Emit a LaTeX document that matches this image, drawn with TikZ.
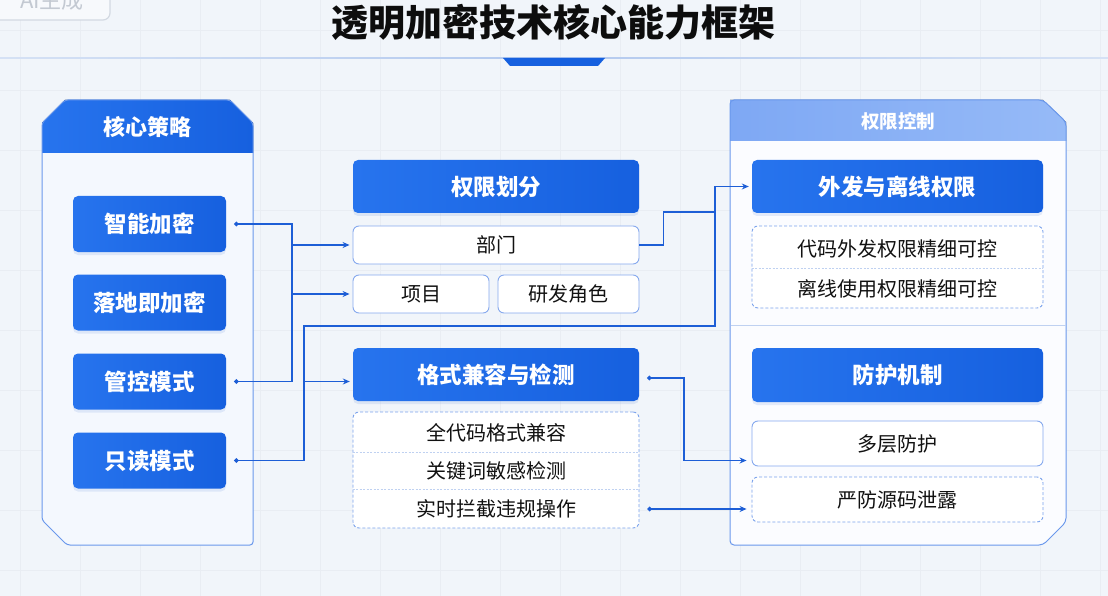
\documentclass[tikz,border=0pt]{standalone}
\usepackage{fontspec}
\setmainfont{Noto Sans CJK SC}
\usetikzlibrary{arrows.meta,shadows,calc}
\definecolor{bg}{HTML}{F1F5FA}
\definecolor{gridc}{HTML}{E9EDF3}
\definecolor{btnA}{HTML}{2774EE}
\definecolor{btnB}{HTML}{1660DF}
\definecolor{lhA}{HTML}{7EA8F4}
\definecolor{lhB}{HTML}{96BAF7}
\definecolor{panelline}{HTML}{6A98EC}
\definecolor{leftbody}{HTML}{F4F8FE}
\definecolor{rightbody}{HTML}{FBFCFF}
\definecolor{subline}{HTML}{86A9EE}
\definecolor{dashline}{HTML}{7AA2EC}
\definecolor{divc}{HTML}{BFD1F1}
\definecolor{connc}{HTML}{1D5ED6}
\definecolor{txt}{HTML}{111111}
\definecolor{titlec}{HTML}{0D0D0D}
\definecolor{lineblue}{HTML}{B3C9EE}
\definecolor{wmline}{HTML}{D3D9E2}
\definecolor{wmtext}{HTML}{C3C9D2}
\definecolor{shadowc}{HTML}{3A6FD0}
\tikzset{
  bluebtn/.style={rounded corners=5pt, left color=btnA, right color=btnB, draw=none,
    text=white, font=\bfseries\fontsize{22.5}{26}\selectfont, inner sep=0pt,
    drop shadow={shadow xshift=0pt, shadow yshift=-3pt, opacity=0.12, fill=shadowc}},
  subbox/.style={rounded corners=6pt, fill=white, draw=subline, line width=0.9pt,
    font=\fontsize{20}{24}\selectfont, text=txt, inner sep=0pt},
  dashbox/.style={rounded corners=6pt, fill=white, draw=dashline, line width=0.9pt,
    dash pattern=on 3pt off 2pt, inner sep=0pt, font=\fontsize{20}{24}\selectfont, text=txt},
  item/.style={font=\fontsize{20}{24}\selectfont, text=txt, inner sep=0pt},
  rowdiv/.style={draw=divc, line width=0.8pt, dash pattern=on 2pt off 1.5pt},
  conn/.style={draw=connc, line width=1.3pt},
  dotarrow/.style={{Circle[length=4.5pt]}-{Stealth[length=7pt,width=6pt]}},
  arrowonly/.style={-{Stealth[length=7pt,width=6pt]}},
  dotdot/.style={{Circle[length=4.5pt]}-{Circle[length=4.5pt]}},
  gridline/.style={draw=gridc, line width=0.4pt}
}
\begin{document}
\begin{tikzpicture}[x=1pt,y=-1pt]
\fill[bg] (0,0) rectangle (1108,596);
\useasboundingbox (0,0) rectangle (1108,596);
% faint grid
\foreach \gx in {20,80,...,1100} \draw[gridline] (\gx,0) -- (\gx,596);
\foreach \gy in {30,90,...,590} \draw[gridline] (0,\gy) -- (1108,\gy);

% watermark
\node[draw=wmline, line width=1.2pt, rounded corners=7pt, fill=bg!60!white, minimum width=120pt, minimum height=38pt] (wmbox) at (50,1) {};
\node[text=wmtext, font=\fontsize{22}{24}\selectfont, inner sep=0pt] (wm) at (52,0) {AI生成};

% title
\node[font=\bfseries\fontsize{37}{40}\selectfont, text=titlec, inner sep=0pt] (title) at (553,22) {透明加密技术核心能力框架};
\shade[left color=lineblue!45!bg, right color=lineblue] (0,57.2) rectangle (553,58.8);
\shade[left color=lineblue, right color=lineblue!45!bg] (553,57.2) rectangle (1108,58.8);
\fill[btnB] (503,58) -- (605,58) -- (598,66) -- (510,66) -- cycle;

% left panel
\fill[leftbody] (42,123) -- (42,520) -- (67,545) -- (249,545) -- (253,541) -- (253,123) -- (230,100) -- (65,100) -- cycle;
\fill[left color=btnA, right color=btnB] (42,153) -- (42,123) -- (65,100) -- (230,100) -- (253,123) -- (253,153) -- cycle;
\draw[draw=panelline, line width=1pt, rounded corners=3pt] (42,123) -- (42,520) -- (67,545) -- (253,545) -- (253,123) -- (230,100) -- (65,100) -- cycle;
\node[font=\bfseries\fontsize{22}{24}\selectfont, text=white, inner sep=0pt] (lhead) at (147.5,127.5) {核心策略};

\node[bluebtn, minimum width=153pt, minimum height=56pt] (zn) at (149.5,224) {智能加密};
\node[bluebtn, minimum width=153pt, minimum height=56pt] (ld) at (149.5,302.5) {落地即加密};
\node[bluebtn, minimum width=153pt, minimum height=56pt] (gk) at (149.5,381.5) {管控模式};
\node[bluebtn, minimum width=153pt, minimum height=56pt] (zd) at (149.5,460.5) {只读模式};

% right panel
\fill[rightbody] (730,104) -- (730,541) -- (734,545) -- (1043,545) -- (1066,522) -- (1066,122) -- (1043,100) -- (734,100) -- cycle;
\fill[left color=lhA, right color=lhB] (730,141) -- (730,100) -- (1043,100) -- (1066,122) -- (1066,141) -- cycle;
\draw[draw=panelline, line width=1pt, rounded corners=4pt] (730,100) -- (730,545) -- (1043,545) -- (1066,522) -- (1066,122) -- (1043,100) -- cycle;
\draw[draw=divc, line width=1pt] (730.5,325) -- (1065.5,325);
\node[font=\bfseries\fontsize{18.5}{22}\selectfont, text=white, inner sep=0pt] (rhead) at (898,121.5) {权限控制};

% centre column
\node[bluebtn, minimum width=286pt, minimum height=53pt] (qx) at (496,186.5) {权限划分};
\node[subbox, minimum width=286pt, minimum height=38pt] (bm) at (496,245) {部门};
\node[subbox, minimum width=136pt, minimum height=38pt] (xm) at (421,294) {项目};
\node[subbox, minimum width=141pt, minimum height=38pt] (yf) at (568.5,294) {研发角色};
\node[bluebtn, minimum width=286pt, minimum height=53pt] (gs) at (496,374.5) {格式兼容与检测};
\node[dashbox, minimum width=286pt, minimum height=116pt] (glist) at (496,470) {};
\draw[rowdiv] (glist.west |- 0,452) -- (glist.east |- 0,452);
\draw[rowdiv] (glist.west |- 0,489) -- (glist.east |- 0,489);
\node[item] (r1) at (496,433) {全代码格式兼容};
\node[item] (r2) at (496,470.5) {关键词敏感检测};
\node[item] (r3) at (496,509) {实时拦截违规操作};

% right column
\node[bluebtn, minimum width=291pt, minimum height=53pt] (wf) at (897.5,186.5) {外发与离线权限};
\node[dashbox, minimum width=291pt, minimum height=82pt] (wlist) at (897.5,267) {};
\draw[rowdiv] (wlist.west |- 0,268) -- (wlist.east |- 0,268);
\node[item] (c1) at (897.5,249) {代码外发权限精细可控};
\node[item] (c2) at (897.5,289) {离线使用权限精细可控};
\node[bluebtn, minimum width=291pt, minimum height=54pt] (fh) at (897.5,375) {防护机制};
\node[subbox, minimum width=291pt, minimum height=45pt] (dc) at (897.5,443.5) {多层防护};
\node[dashbox, minimum width=291pt, minimum height=45pt] (yx) at (897.5,499.5) {严防源码泄露};

% connectors
\coordinate (b1) at (292,224);
\coordinate (b2) at (304,326);
\coordinate (b3) at (715,326);
\coordinate (j1) at (715,212);
\coordinate (k1) at (684,378);
\draw[conn, dotdot] ([xshift=8pt]zn.east) -- (b1) |- ([xshift=8pt]gk.east);
\draw[conn, arrowonly] (b1 |- bm.west) -- ([xshift=-3pt]bm.west);
\draw[conn, arrowonly] (b1 |- xm.west) -- ([xshift=-3pt]xm.west);
\draw[conn, dotarrow] ([xshift=8pt]zd.east) -- (b2 |- zd.east) -- (b2) -- (b3) |- ([xshift=-3pt]wf.west);
\draw[conn, arrowonly] (b2 |- gk.east) -- ([xshift=-3pt]gs.west |- gk.east);
\draw[conn] (bm.east) -- ++(24,0) |- (j1);
\draw[conn, dotarrow] ([xshift=8pt]gs.east |- k1) -- (k1) |- ([xshift=-5pt]dc.west |- zd.east);
\draw[conn, dotarrow] ([xshift=8pt]glist.east |- r3) -- ([xshift=-5pt]yx.west |- r3);
\end{tikzpicture}
\end{document}
